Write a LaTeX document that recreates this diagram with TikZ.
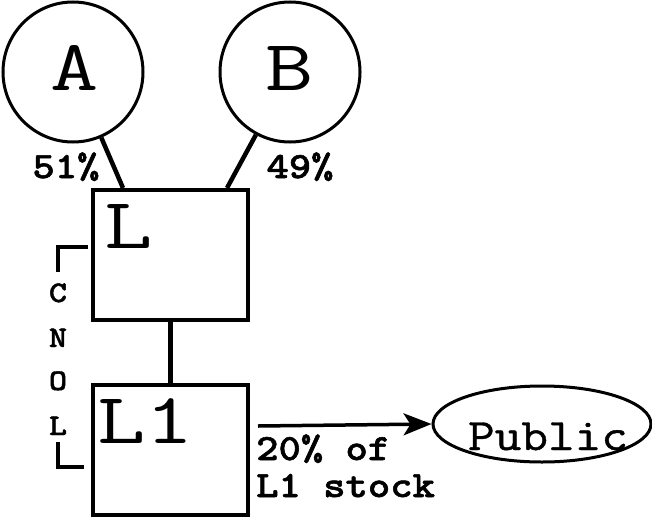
\documentclass[tikz,border=0pt]{standalone}
\usepackage{fontspec}
\newfontfamily\cour{Latin Modern Mono}[FakeStretch=1.3]
\newfontfamily\courp{Latin Modern Mono}[FakeStretch=1.15,FakeBold=1]
\newfontfamily\courb{lmmonolt10-bold.otf}[FakeStretch=1.15,FakeBold=1.5]
\usetikzlibrary{arrows.meta,shapes.geometric}
\begin{document}
\begin{tikzpicture}[x=1pt,y=-1pt,
  bigtxt/.style={font=\cour\fontsize{72}{72}\selectfont, inner sep=0pt},
  lbl/.style={font=\courb\fontsize{37}{37}\selectfont, inner sep=0pt},
  vlbl/.style={font=\courb\fontsize{30}{30}\selectfont, inner sep=0pt, anchor=base},
  owner/.style={circle, draw, line width=3pt, minimum size=140pt, inner sep=0pt},
  company/.style={draw, line width=4pt, minimum width=155pt, minimum height=130pt, inner sep=0pt},
  link/.style={line width=4.5pt}]
\useasboundingbox (0,0) rectangle (652,519);
\node[owner] (A) at (73,72) {};
\node[owner] (B) at (290,72) {};
\node[bigtxt, anchor=base] at (75,90) {A};
\node[bigtxt, anchor=base] at (290,90) {B};
\node[company] (L) at (170.5,255) {};
\node[company] (L1) at (170.5,450) {};
\node[bigtxt, anchor=base west] at (104,248) {L};
\node[bigtxt, anchor=base west] at (97,443) {L1};
\draw[link] (A) -- ([xshift=32pt]L.north west);
\draw[link] (B) -- ([xshift=-23pt]L.north east);
\draw[link] (L) -- (L1);
\node[lbl, anchor=base] at (66,178) {51\%};
\node[lbl, anchor=base] at (300,178) {49\%};
\node[ellipse, draw, line width=3pt, minimum width=218pt, minimum height=76pt, inner sep=0pt] (P) at (542,424) {};
\node[font=\courp\fontsize{45}{45}\selectfont, inner sep=0pt, anchor=base] at (548,450) {Public};
\coordinate (s) at (258,426);
\draw[line width=3.5pt, -{Stealth[length=28pt,width=22pt,inset=7pt]}] (s) -- (P.west);
\node[lbl, anchor=base west] at (256,460) {20\% of};
\node[lbl, anchor=base west] at (256,497) {L1 stock};
\node[vlbl] at (58,302) {C};
\node[vlbl] at (58,347) {N};
\node[vlbl] at (58,390) {O};
\node[vlbl] at (58,435) {L};
\coordinate (t1) at (88,247);
\coordinate (t2) at (58,272);
\coordinate (b1) at (58,442);
\coordinate (b2) at (84,467);
\draw[line width=4pt] (t1) -| (t2);
\draw[line width=4pt] (b1) |- (b2);
\end{tikzpicture}
\end{document}
